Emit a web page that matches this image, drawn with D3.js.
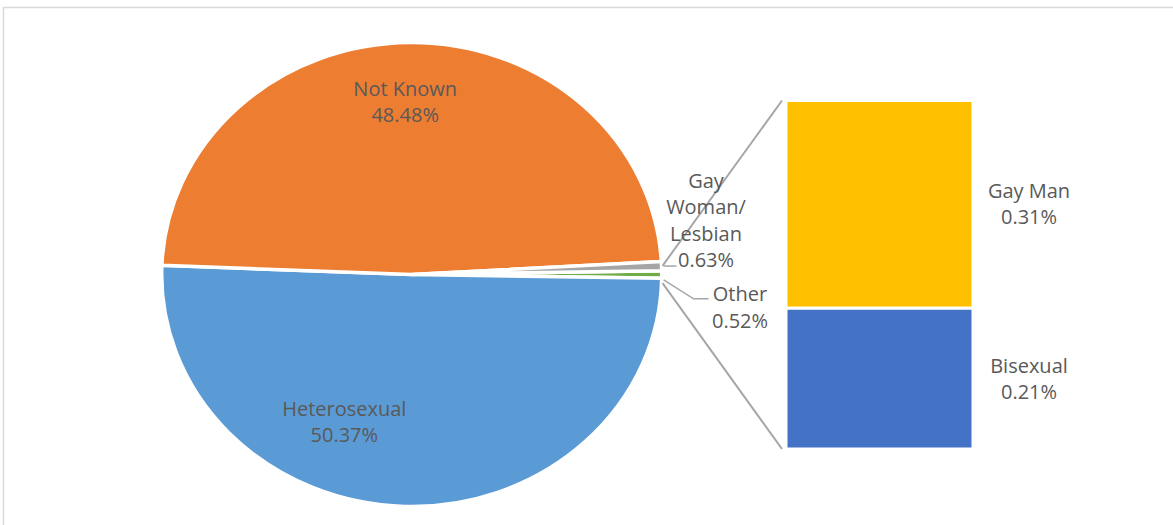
<!DOCTYPE html>
<html>
<head>
<meta charset="utf-8">
<script src="https://cdn.jsdelivr.net/npm/d3@7"></script>
<style>
  html, body { margin: 0; padding: 0; background: #fff; }
  svg { display: block; }
  text { font-family: "Open Sans", "Noto Sans", sans-serif; font-size: 20px; fill: #595959; }
</style>
</head>
<body>
<svg id="chart" width="1173" height="525"></svg>
<script>
// Pie slices, in clockwise order starting with the combined "Other" slice
const pieCategories = ["Other", "Heterosexual", "Not Known", "Gay Woman/ Lesbian"];
const pieValues = [0.52, 50.37, 48.48, 0.63];
const pieColors = ["#70AD47", "#5B9BD5", "#ED7D31", "#A5A5A5"];

// Breakdown of "Other" shown in the stacked bar (top to bottom)
const barCategories = ["Gay Man", "Bisexual"];
const barValues = [0.31, 0.21];
const barColors = ["#FFC000", "#4472C4"];

const fmt = v => v.toFixed(2) + "%";

const svg = d3.select("#chart");

// chart area border
svg.append("rect")
  .attr("x", 3.5).attr("y", 7.5)
  .attr("width", 1185).attr("height", 540)
  .attr("fill", "none").attr("stroke", "#d9d9d9").attr("stroke-width", 1.5);

// ---- pie (slightly elliptical, as in the sheet's plot area) ----
const cx = 411.7, cy = 274.5, rx = 250, ry = 232;
const total = d3.sum(pieValues);
const otherSpan = pieValues[0] / total * 2 * Math.PI;
const start = Math.PI / 2 - otherSpan / 2;

const pie = d3.pie().sort(null).value(d => d.value)
  .startAngle(start).endAngle(start + 2 * Math.PI);
const slices = pie(pieCategories.map((c, i) => ({ cat: c, value: pieValues[i], color: pieColors[i] })));
const arc = d3.arc().innerRadius(0).outerRadius(rx);

const pieG = svg.append("g")
  .attr("transform", `translate(${cx},${cy}) scale(1,${ry / rx})`);
pieG.selectAll("path").data(slices).join("path")
  .attr("d", arc)
  .attr("fill", d => d.data.color)
  .attr("stroke", "#fff").attr("stroke-width", 3.5)
  .attr("vector-effect", "non-scaling-stroke");

// point on the ellipse rim for an angle (0 = 12 o'clock, clockwise), pushed out by `out` px
const rim = (a, out = 0) => [cx + (rx + out) * Math.sin(a), cy - (ry + out) * Math.cos(a)];

// ---- stacked bar ----
const barTop = 100.5, barBottom = 449, barX = 786, barW = 187;
const y = d3.scaleLinear().domain([0, d3.sum(barValues)]).range([barTop, barBottom]);
const stacked = [];
let acc = 0;
barValues.forEach((v, i) => { stacked.push({ cat: barCategories[i], v, y0: acc, y1: acc + v, color: barColors[i] }); acc += v; });

svg.append("g").selectAll("rect").data(stacked).join("rect")
  .attr("x", barX).attr("width", barW)
  .attr("y", d => y(d.y0)).attr("height", d => y(d.y1) - y(d.y0))
  .attr("fill", d => d.color)
  .attr("stroke", "#fff").attr("stroke-width", 3);

// ---- series lines joining the "Other" slice to the bar ----
const other = slices[0];
const pad = 1.2 * Math.PI / 180;
const lineColor = "#a6a6a6";
const p1 = rim(other.startAngle - pad, 1), p2 = rim(other.endAngle + pad, 1);
svg.append("line").attr("x1", p1[0]).attr("y1", p1[1]).attr("x2", barX - 4).attr("y2", y(0))
  .attr("stroke", lineColor).attr("stroke-width", 2);
svg.append("line").attr("x1", p2[0]).attr("y1", p2[1]).attr("x2", barX - 4).attr("y2", y(d3.sum(barValues)))
  .attr("stroke", lineColor).attr("stroke-width", 2);

// ---- data labels ----
function multiLine(x, yTop, lines, lh = 26.5) {
  const t = svg.append("text").attr("text-anchor", "middle");
  lines.forEach((l, i) => t.append("tspan").attr("x", x).attr("y", yTop + i * lh).text(l));
  return t;
}

// labels inside the two large slices (angle / radius fraction of the label centre)
const insideLabels = {
  "Not Known": { angle: -2 * Math.PI / 180, r: 0.745 },
  "Heterosexual": { angle: 203 * Math.PI / 180, r: 0.69 }
};
slices.filter(s => insideLabels[s.data.cat]).forEach(s => {
  const p = insideLabels[s.data.cat];
  const lx = cx + rx * p.r * Math.sin(p.angle);
  const ly = cy - ry * p.r * Math.cos(p.angle);
  multiLine(lx, ly - 6, [s.data.cat, fmt(s.data.value)]);
});

// Gay Woman/Lesbian: short horizontal leader from the rim, label wrapped word by word
const gw = slices[3];
const gwMid = (gw.startAngle + gw.endAngle) / 2;
const g0 = rim(gwMid, 2);
svg.append("line").attr("x1", g0[0]).attr("y1", g0[1]).attr("x2", g0[0] + 13).attr("y2", g0[1])
  .attr("stroke", lineColor).attr("stroke-width", 1.5);
const gwLines = gw.data.cat.split(" ").concat([fmt(gw.data.value)]);
multiLine(706, g0[1] + 1 - (gwLines.length - 1) * 26.3, gwLines, 26.3);

// Other: bent leader line
const o0 = rim(other.endAngle + pad * 0.3, 2);
const oBend = [o0[0] + 30, o0[1] + 19];
svg.append("polyline")
  .attr("points", [o0, oBend, [oBend[0] + 15, oBend[1]]].map(p => p.join(",")).join(" "))
  .attr("fill", "none").attr("stroke", lineColor).attr("stroke-width", 1.5);
multiLine(740, oBend[1] + 2, [other.data.cat, fmt(other.data.value)], 27);

// bar segment labels, centred on each segment
stacked.forEach(d => {
  const mid = (y(d.y0) + y(d.y1)) / 2;
  multiLine(barX + barW + 56, mid - 6, [d.cat, fmt(d.v)], 26);
});
</script>
</body>
</html>
